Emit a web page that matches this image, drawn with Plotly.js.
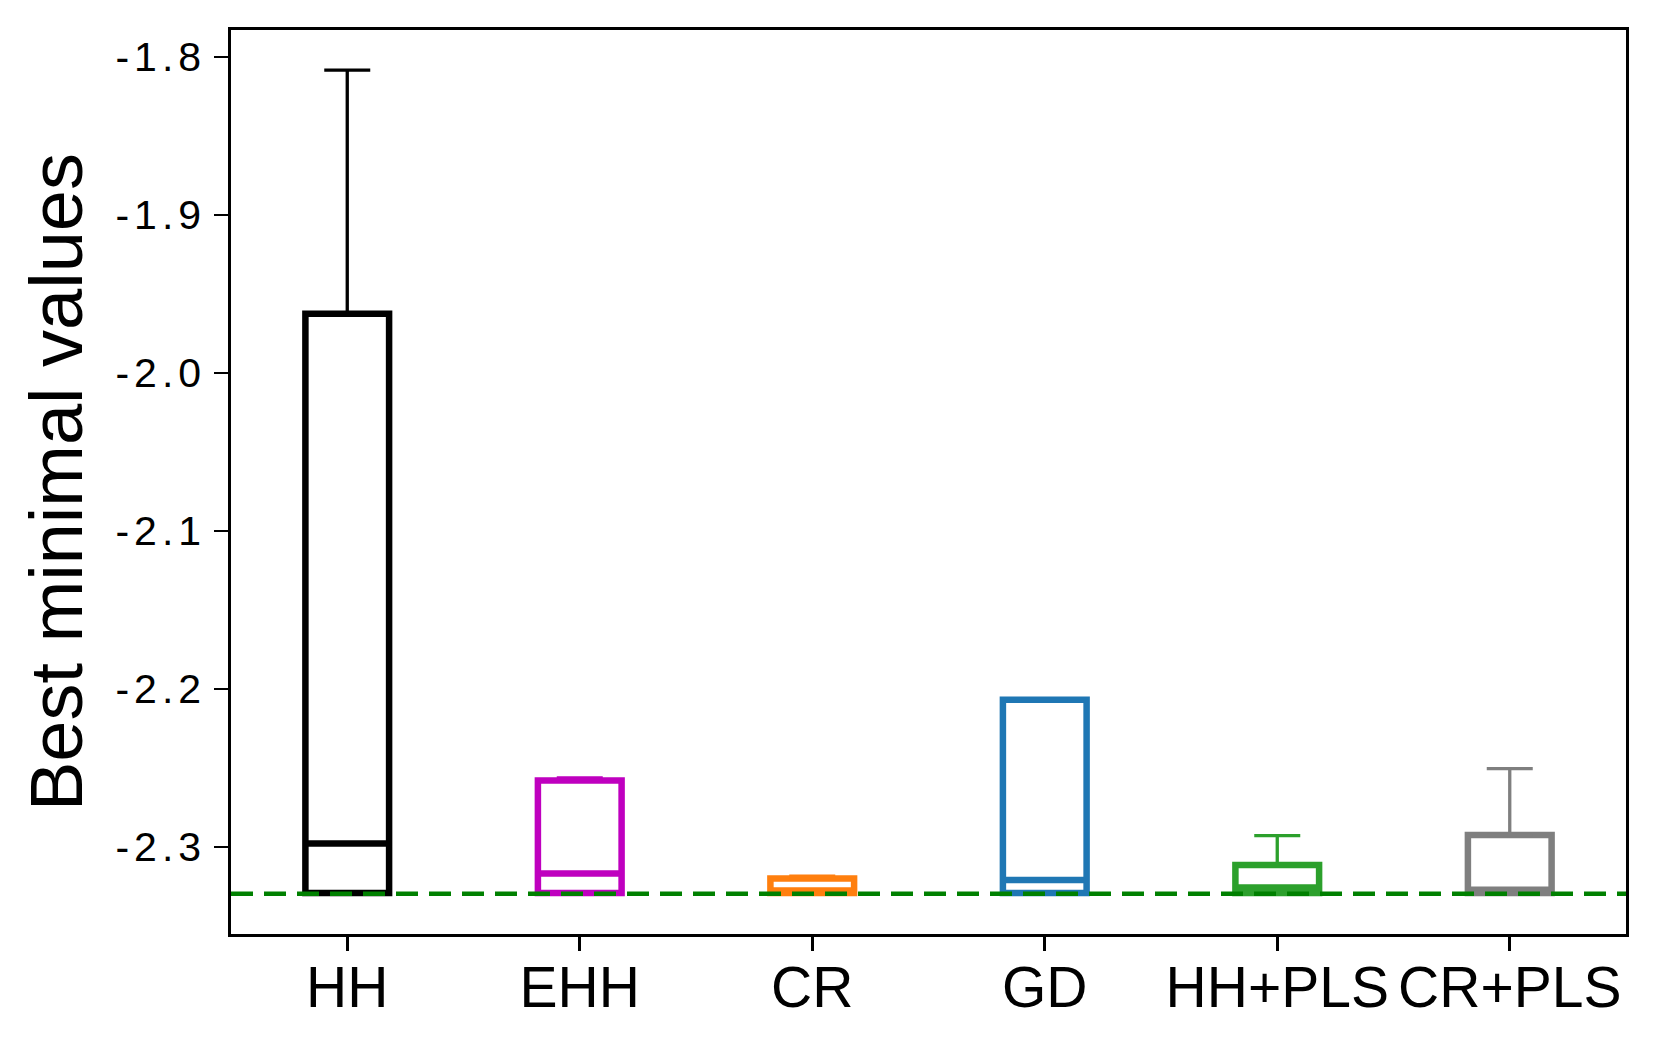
<!DOCTYPE html>
<html>
<head>
<meta charset="utf-8">
<script src="https://cdn.plot.ly/plotly-3.0.1.min.js"></script>
<style>
  body { margin: 0; background: #fff; }
  #chart { width: 1655px; height: 1048px; }
  .ytick text { letter-spacing: 5px; }
</style>
</head>
<body>
<div id="chart"></div>
<script>
// box statistics
let methods = ['HH', 'EHH', 'CR', 'GD', 'HH+PLS', 'CR+PLS'];
let lowerValues = [-2.3296, -2.3296, -2.3296, -2.3296, -2.3296, -2.3296];
let q1Values = [-2.3290, -2.3290, -2.3290, -2.3290, -2.3290, -2.3290];
let medianValues = [-2.2977, -2.3167, -2.3275, -2.3209, -2.3255, -2.3270];
let q3Values = [-1.9626, -2.2579, -2.3199, -2.2068, -2.3114, -2.2924];
let upperValues = [-1.8084, -2.2562, -2.3184, -2.2068, -2.2928, -2.2503];
let boxColors = ['#000000', '#bf00bf', '#ff7f0e', '#1f77b4', '#2ca02c', '#7f7f7f'];

// best known minimum (dashed line)
let bestKnown = -2.3296;

let yTicks = [-2.3, -2.2, -2.1, -2.0, -1.9, -1.8];
let yTickText = ['-2.3', '-2.2', '-2.1', '-2.0', '-1.9', '-1.8'];

let fontName = '"Liberation Sans", Arial, Helvetica, sans-serif';

// whiskers + caps as asymmetric error bars (thinner than the box outline)
let whiskerTraces = methods.map((m, i) => ({
    type: 'scatter',
    x: [m, m],
    y: [q3Values[i], q1Values[i]],
    mode: 'markers',
    marker: {size: 1, color: 'rgba(0,0,0,0)'},
    error_y: {
        type: 'data',
        symmetric: false,
        array: [upperValues[i] - q3Values[i], 0],
        arrayminus: [0, q1Values[i] - lowerValues[i]],
        width: 23,
        thickness: 3.3,
        color: boxColors[i]
    },
    hoverinfo: 'skip',
    showlegend: false
}));

let boxTraces = methods.map((m, i) => ({
    type: 'box',
    x: [m],
    q1: [q1Values[i]],
    median: [medianValues[i]],
    q3: [q3Values[i]],
    lowerfence: [q1Values[i]],
    upperfence: [q3Values[i]],
    boxpoints: false,
    width: 0.36,
    whiskerwidth: 0,
    fillcolor: 'rgba(0,0,0,0)',
    line: {color: boxColors[i], width: 6.5},
    showlegend: false
}));

let layout = {
    width: 1655,
    height: 1048,
    margin: {l: 231, r: 29, t: 30, b: 114},
    paper_bgcolor: '#ffffff',
    plot_bgcolor: '#ffffff',
    showlegend: false,
    boxmode: 'overlay',
    font: {family: fontName, color: '#000000'},
    xaxis: {
        type: 'category',
        range: [-0.5, 5.5],
        showgrid: false,
        zeroline: false,
        showline: true,
        mirror: true,
        linecolor: '#000000',
        linewidth: 2.7,
        ticks: 'outside',
        ticklen: 14,
        tickwidth: 2.7,
        tickcolor: '#000000',
        ticklabelstandoff: -12,
        tickfont: {size: 57, family: fontName, color: '#000000'}
    },
    yaxis: {
        range: [-2.355, -1.783],
        tickvals: yTicks,
        ticktext: yTickText,
        showgrid: false,
        zeroline: false,
        showline: true,
        mirror: true,
        linecolor: '#000000',
        linewidth: 2.7,
        ticks: 'outside',
        ticklen: 14,
        tickwidth: 2.7,
        tickcolor: '#000000',
        tickfont: {size: 41, family: fontName, color: '#000000'},
        title: {text: 'Best minimal values', font: {size: 74, family: fontName, color: '#000000'}, standoff: 9}
    },
    shapes: [{
        type: 'line',
        xref: 'paper',
        yref: 'y',
        x0: 0,
        x1: 1,
        y0: bestKnown,
        y1: bestKnown,
        layer: 'above',
        line: {color: '#008000', width: 4.5, dash: '22px,11px'}
    }]
};

Plotly.newPlot('chart', whiskerTraces.concat(boxTraces), layout, {displayModeBar: false, staticPlot: true});
</script>
</body>
</html>
